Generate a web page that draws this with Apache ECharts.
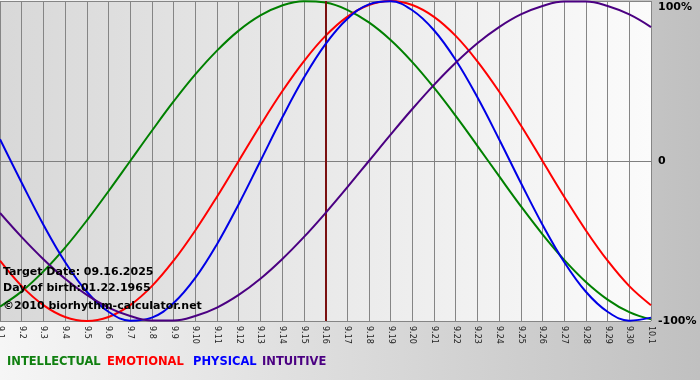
<!DOCTYPE html>
<html>
<head>
<meta charset="utf-8">
<script src="https://cdn.jsdelivr.net/npm/echarts@6/dist/echarts.min.js"></script>
<style>html,body{margin:0;padding:0;background:#fff}#c{width:700px;height:380px}</style>
</head>
<body>
<div id="c"></div>
<script>
const categories = ['9.1','9.2','9.3','9.4','9.5','9.6','9.7','9.8','9.9','9.10','9.11','9.12','9.13','9.14','9.15','9.16','9.17','9.18','9.19','9.20','9.21','9.22','9.23','9.24','9.25','9.26','9.27','9.28','9.29','9.30','10.1'];
const intellectual = [-91.0,-81.5,-69.0,-54.1,-37.2,-18.9,0,18.9,37.2,54.1,69.0,81.5,91.0,97.2,99.9,99.0,94.5,86.6,75.6,61.8,45.8,28.2,9.5,-9.5,-28.2,-45.8,-61.8,-75.6,-86.6,-94.5,-99.0];
const emotional = [-62.3,-78.2,-90.1,-97.5,-100,-97.5,-90.1,-78.2,-62.3,-43.4,-22.3,0,22.3,43.4,62.3,78.2,90.1,97.5,100,97.5,90.1,78.2,62.3,43.4,22.3,0,-22.3,-43.4,-62.3,-78.2,-90.1];
const physical = [13.6,-13.6,-39.8,-63.1,-81.7,-94.2,-99.8,-97.9,-88.8,-73.1,-52.0,-27.0,0,27.0,52.0,73.1,88.8,97.9,99.8,94.2,81.7,63.1,39.8,13.6,-13.6,-39.8,-63.1,-81.7,-94.2,-99.8,-97.9];
const intuitive = [-32.5,-47.6,-61.4,-73.6,-83.7,-91.6,-96.9,-99.7,-99.7,-96.9,-91.6,-83.7,-73.6,-61.4,-47.6,-32.5,-16.5,0,16.5,32.5,47.6,61.4,73.6,83.7,91.6,96.9,99.7,99.7,96.9,91.6,83.7];
const targetDay = '9.16';
const seriesNames = ['INTELLECTUAL','EMOTIONAL','PHYSICAL','INTUITIVE'];
const infoLines = ['Target Date: 09.16.2025','Day of birth:01.22.1965','\u00A92010 biorhythm-calculator.net'];

const colors = ['#008000','#ff0000','#0000e6','#4b0082'];
const legendColors = ['#108010','#ff0000','#0000ff','#4b0082'];
const legendX = [7,107,193,262];
const infoY = [272,288,306];
const dataSets = [intellectual, emotional, physical, intuitive];

const chart = echarts.init(document.getElementById('c'), null, {renderer:'canvas'});

const series = dataSets.map((d,i)=>({
  name: seriesNames[i],
  type: 'line',
  data: d,
  smooth: 0.4,
  showSymbol: false,
  symbol: 'none',
  lineStyle: {color: colors[i], width: 2},
  z: 3 + i,
  animation: false
}));
series[0].markLine = {
  symbol: 'none', silent: true, animation: false,
  label: {show: false},
  lineStyle: {color: '#7a1010', width: 2, type: 'solid'},
  data: [{xAxis: targetDay}]
};

const graphics = [];
infoLines.forEach((t,i)=>{
  graphics.push({type:'text', x:3, y:infoY[i], z:100, silent:true,
    style:{text:t, font:'bold 11px "DejaVu Sans"', fill:'#000', verticalAlign:'middle'}});
});
seriesNames.forEach((t,i)=>{
  graphics.push({type:'text', x:legendX[i], y:362, z:100, silent:true,
    style:{text:t, font:'bold 11.5px "DejaVu Sans"', fill:legendColors[i], verticalAlign:'middle'}});
});

chart.setOption({
  animation: false,
  backgroundColor: new echarts.graphic.LinearGradient(0,0,1,0,[{offset:0,color:'#f6f6f6'},{offset:1,color:'#c0c0c0'}]),
  grid: {
    left: 0, right: 49, top: 1, bottom: 59,
    outerBoundsMode: 'none',
    containLabel: false,
    show: true, borderWidth: 0,
    backgroundColor: new echarts.graphic.LinearGradient(0,0,1,0,[{offset:0,color:'#d8d8d8'},{offset:1,color:'#fbfbfb'}])
  },
  xAxis: {
    type: 'category',
    data: categories,
    boundaryGap: false,
    axisLine: {show: true, lineStyle: {color: '#808080', width: 1}},
    axisTick: {show: true, length: 4, interval: 0, lineStyle: {color: '#808080'}},
    axisLabel: {interval: 0, rotate: -90, margin: 5, fontSize: 8, fontFamily: 'DejaVu Sans', color: '#222'},
    splitLine: {show: true, interval: 0, lineStyle: {color: '#858585', width: 1}}
  },
  yAxis: {
    type: 'value',
    position: 'right',
    min: -100, max: 100, interval: 100,
    axisLine: {show: false},
    axisTick: {show: false},
    splitLine: {show: true, lineStyle: {color: '#858585', width: 1}},
    axisLabel: {
      margin: 7,
      fontSize: 11, fontWeight: 'bold', fontFamily: 'DejaVu Sans', color: '#000',
      formatter: v => v === 100 ? '{top|100%}' : (v === 0 ? '0' : '-100%'),
      rich: {top: {fontSize: 11, fontWeight: 'bold', fontFamily: 'DejaVu Sans', color: '#000', padding: [12,0,0,0]}}
    }
  },
  series: series,
  graphic: graphics
});
</script>
</body>
</html>
